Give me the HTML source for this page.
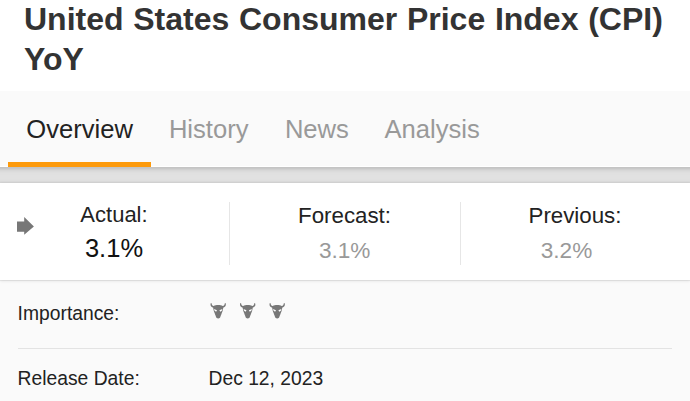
<!DOCTYPE html>
<html><head><meta charset="utf-8">
<style>
*{margin:0;padding:0;box-sizing:border-box}
html,body{width:690px;height:401px;overflow:hidden;background:#fafafa;font-family:"Liberation Sans",sans-serif}
.abs{position:absolute;white-space:nowrap}
#top{position:absolute;left:0;top:0;width:690px;height:91px;background:#fff}
#title{left:24px;top:-1px;font-size:32px;line-height:40px;font-weight:bold;color:#333;word-spacing:0.8px}
#tabs{position:absolute;left:0;top:91px;width:690px;height:76px;background:#fafafa}
.tab{position:absolute;top:0;height:76px;font-size:25.6px;line-height:26px;color:#999}
#bar{position:absolute;left:8px;top:162px;width:143px;height:5px;background:#fd9a0b}
#shadow{position:absolute;left:0;top:167px;width:690px;height:16px;background:linear-gradient(#c4c4c4 0px,#c4c4c4 1px,#c8c8c8 1px,#c8c8c8 2px,#d0d0d0 2px,#d0d0d0 3px,#d7d7d7 3px,#d7d7d7 4px,#dbdbdb 4px,#dbdbdb 5px,#dedede 5px,#dedede 6px,#e0e0e0 6px,#e0e0e0 7px,#e0e0e0 7px,#e0e0e0 8px,#e1e1e1 8px,#e1e1e1 9px,#e1e1e1 9px,#e1e1e1 10px,#e1e1e1 10px,#e1e1e1 11px,#e1e1e1 11px,#e1e1e1 12px,#e0e0e0 12px,#e0e0e0 13px,#dfdfdf 13px,#dfdfdf 14px,#dadada 14px,#dadada 15px,#d4d4d4 15px,#d4d4d4 16px)}
#card{position:absolute;left:0;top:183px;width:690px;height:97px;background:#fff;box-shadow:0 0.5px 0 rgba(0,0,0,0.12),0 1px 3px rgba(0,0,0,0.10)}
.div{position:absolute;top:202px;width:1px;height:63px;background:#e6e6e6}
.lbl{font-size:22.3px;line-height:22px;color:#222;text-align:center}
.val{font-size:22.6px;line-height:22px;color:#999;text-align:center}
.row{font-size:19.3px;line-height:20px;color:#222}
#sep{position:absolute;left:17.6px;top:348px;width:654.7px;height:1px;background:#e3e3e3}
</style></head>
<body>
<div id="top"></div>
<div id="title" class="abs">United States Consumer Price Index (CPI)<br>YoY</div>
<div id="tabs"></div>
<div class="abs tab" style="left:26.3px;top:116.2px;color:#222">Overview</div>
<div class="abs tab" style="left:168.9px;top:116.2px">History</div>
<div class="abs tab" style="left:284.9px;top:116.2px">News</div>
<div class="abs tab" style="left:384.5px;top:116.2px">Analysis</div>
<div style="position:absolute;left:0;top:166px;width:690px;height:1px;background:#fff"></div>
<div id="bar"></div>
<div id="shadow"></div>
<div id="card"></div>
<svg class="abs" style="left:0;top:0" width="690" height="401">
  <path d="M17,221.5 H24.2 V217 L33.9,226.6 L24.2,234.8 V231.8 H17 Z" fill="#777"/>
</svg>
<div class="div" style="left:229px"></div>
<div class="div" style="left:460px"></div>
<div class="abs lbl" style="left:0;width:228px;top:203.6px;font-size:22px">Actual:</div>
<div class="abs" style="left:0;width:228px;top:236.1px;font-size:25.5px;line-height:25px;color:#111;text-align:center">3.1%</div>
<div class="abs lbl" style="left:229.5px;width:230px;top:204.6px">Forecast:</div>
<div class="abs val" style="left:229.7px;width:230px;top:240.3px">3.1%</div>
<div class="abs lbl" style="left:460px;width:230px;top:205px">Previous:</div>
<div class="abs val" style="left:441.5px;width:250px;top:240.3px">3.2%</div>
<div class="abs row" style="left:17.6px;top:304px">Importance:</div>
<div id="sep"></div>
<svg class="abs" style="left:0;top:299px" width="300" height="24">
 <defs><g id="bull"><path d="M-7.3,4.1 C-8,5.6 -7.9,7.9 -5,8.7 L-4.9,9.8 C-4.7,11.5 -4,13 -3.5,14.3 C-3,15.8 -2.3,17.6 -1.8,18.8 Q0,20 1.8,18.8 C2.3,17.6 3,15.8 3.5,14.3 C4,13 4.7,11.5 4.9,9.8 L5,8.7 C7.9,7.9 8,5.6 7.3,4.1 L6.6,4.3 C6.5,5.9 6,6.7 4.5,7 C2.5,5.8 -2.5,5.8 -4.5,7 C-6,6.7 -6.5,5.9 -6.6,4.3 Z" fill="#777"/><path d="M-4.2,10.1 L-1.2,11.2 L-2.1,12.7 L-3.6,11.8 Z M4.2,10.1 L1.2,11.2 L2.1,12.7 L3.6,11.8 Z" fill="#fff"/></g></defs>
 <use href="#bull" x="218.2"/><use href="#bull" x="247.7"/><use href="#bull" x="277.2"/>
</svg>
<div class="abs row" style="left:17.6px;top:369.1px">Release Date:</div>
<div class="abs row" style="left:208.5px;top:368.8px">Dec 12, 2023</div>
</body></html>
